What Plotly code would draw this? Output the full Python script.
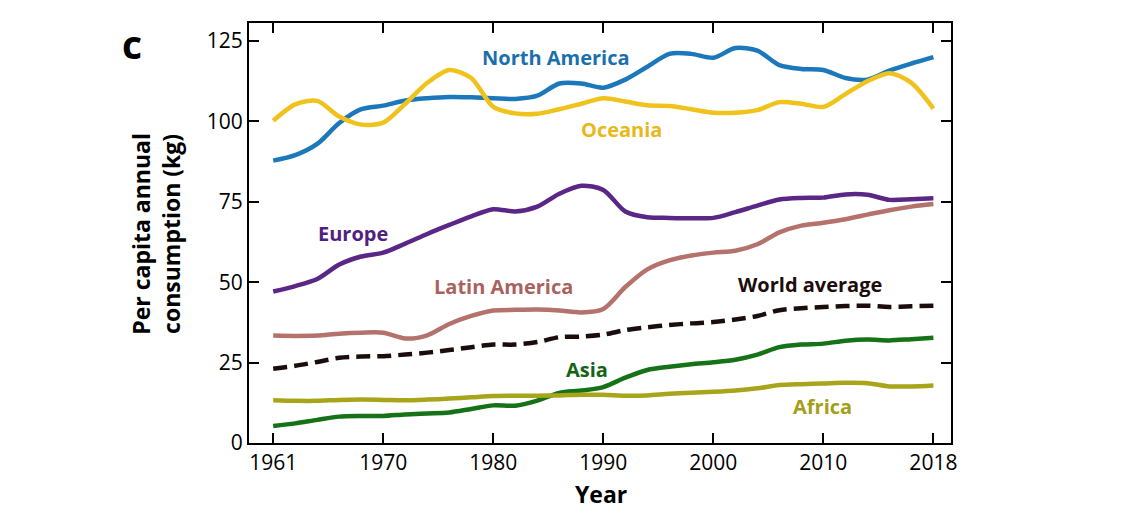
import plotly.graph_objects as go

years = [1960 + 2 * i for i in range(31)]

north_america = [87.8, 89.5, 93.0, 99.5, 103.8, 104.9, 106.5, 107.2, 107.6, 107.5, 107.2, 107.0, 108.0, 111.8, 111.8, 110.5,
                 113.0, 117.0, 121.0, 121.0, 119.8, 122.8, 122.0, 117.5, 116.3, 116.0, 113.5, 113.0, 115.8, 118.0, 120.0]
oceania = [100.2, 105.3, 106.4, 101.5, 99.0, 99.6, 105.5, 112.0, 116.0, 113.5, 104.5, 102.5, 102.4, 103.8, 105.5, 107.2,
           106.2, 105.0, 104.8, 103.8, 102.7, 102.7, 103.5, 106.0, 105.5, 104.5, 108.5, 112.5, 115.0, 112.0, 104.0]
europe = [47.1, 48.8, 51.0, 55.5, 58.0, 59.2, 62.0, 65.0, 67.8, 70.5, 72.7, 72.0, 73.5, 77.5, 80.0, 78.7,
          72.0, 70.2, 70.0, 69.9, 70.0, 71.8, 73.8, 75.7, 76.2, 76.3, 77.3, 77.2, 75.6, 75.8, 76.1]
latin_america = [33.4, 33.3, 33.4, 34.0, 34.3, 34.3, 32.5, 33.5, 37.0, 39.5, 41.2, 41.4, 41.5, 41.2, 40.6, 41.7,
                 48.5, 54.0, 56.8, 58.3, 59.2, 59.8, 61.8, 65.5, 67.6, 68.5, 69.6, 71.0, 72.4, 73.5, 74.3]
world_average = [23.1, 24.0, 25.2, 26.5, 26.9, 27.0, 27.5, 28.1, 28.9, 29.8, 30.6, 30.6, 31.4, 32.9, 33.1, 33.7,
                 35.1, 36.0, 36.7, 37.2, 37.6, 38.4, 39.5, 41.3, 41.9, 42.3, 42.6, 42.7, 42.3, 42.5, 42.7]
asia = [5.3, 6.1, 7.2, 8.2, 8.4, 8.4, 8.9, 9.2, 9.5, 10.6, 11.7, 11.6, 13.2, 15.6, 16.3, 17.4,
        20.3, 22.7, 23.7, 24.5, 25.1, 25.9, 27.5, 29.8, 30.6, 30.9, 31.8, 32.2, 31.9, 32.3, 32.7]
africa = [13.3, 13.1, 13.1, 13.4, 13.5, 13.4, 13.3, 13.5, 13.8, 14.2, 14.6, 14.7, 14.7, 14.8, 15.0, 15.0,
          14.7, 14.8, 15.3, 15.6, 15.9, 16.3, 17.0, 18.0, 18.3, 18.5, 18.7, 18.6, 17.6, 17.6, 17.9]

series_names = ["North America", "Oceania", "Europe", "Latin America", "World average", "Asia", "Africa"]
series_values = [north_america, oceania, europe, latin_america, world_average, asia, africa]
series_colors = ["#1b78bb", "#f0c21c", "#5a2786", "#b5726d", "#1c0d0d", "#157217", "#a9a51b"]
label_colors = ["#1a6fae", "#e8b81a", "#52207f", "#a9625e", "#1c0d0d", "#136416", "#a39f18"]

tick_vals = [1960, 1970, 1980, 1990, 2000, 2010, 2020]
tick_text = ["1961", "1970", "1980", "1990", "2000", "2010", "2018"]
y_ticks = [0, 25, 50, 75, 100, 125]

# page body has an 8px margin; work in page pixels, convert to figure pixels
OFF = 8
W, H = 1146 - OFF, 524 - OFF
L, R, T, B = 249 - OFF, 951 - OFF, 23 - OFF, 443.5 - OFF


def px(x):
    return (x - OFF - L) / (R - L)


def py(y):
    return (B - (y - OFF)) / (B - T)


fig = go.Figure()
for name, vals, col in zip(series_names, series_values, series_colors):
    fig.add_trace(go.Scatter(
        x=years, y=vals, mode="lines", name=name,
        line=dict(color=col, width=4.5, shape="spline", smoothing=0.8,
                  dash="14px,7px" if name == "World average" else "solid"),
    ))

label_pos = {
    "North America": (556, 58),
    "Oceania": (621, 130),
    "Europe": (353, 234),
    "Latin America": (503, 287),
    "World average": (810, 285),
    "Asia": (587, 370),
    "Africa": (822, 407),
}
annotations = []
for name, col in zip(series_names, label_colors):
    x, y = label_pos[name]
    annotations.append(dict(x=px(x), y=py(y), xref="paper", yref="paper", text=name, showarrow=False,
                            font=dict(family="Open Sans", size=20, color=col, weight="bold"),
                            xanchor="center", yanchor="middle"))
annotations.append(dict(x=px(132), y=py(44), xref="paper", yref="paper", text="c", showarrow=False,
                        font=dict(family="Open Sans", size=39, color="black", weight="bold"),
                        xanchor="center", yanchor="middle"))
annotations.append(dict(x=px(156), y=py(234), xref="paper", yref="paper",
                        text="Per capita annual<br>consumption (kg)", showarrow=False, textangle=-90,
                        font=dict(family="Open Sans", size=23, color="black", weight="bold"),
                        xanchor="center", yanchor="middle"))
annotations.append(dict(x=px(601), y=py(495), xref="paper", yref="paper", text="Year", showarrow=False,
                        font=dict(family="Open Sans", size=23, color="black", weight="bold"),
                        xanchor="center", yanchor="middle"))

axis_common = dict(showline=True, linecolor="black", linewidth=2, mirror="ticks", ticks="inside",
                   ticklen=10, tickwidth=2, tickcolor="black", showgrid=False, zeroline=False,
                   tickfont=dict(family="Open Sans", size=21, color="black"))

fig.update_layout(
    width=W, height=H,
    margin=dict(l=L, r=W - R, t=T, b=H - B, autoexpand=False),
    paper_bgcolor="white", plot_bgcolor="white",
    showlegend=False,
    xaxis=dict(range=[1957.8, 2021.6], tickvals=tick_vals, ticktext=tick_text, **axis_common),
    yaxis=dict(range=[0, 130.6], tickvals=y_ticks, **axis_common),
    annotations=annotations,
)

fig.write_html("out.html")
